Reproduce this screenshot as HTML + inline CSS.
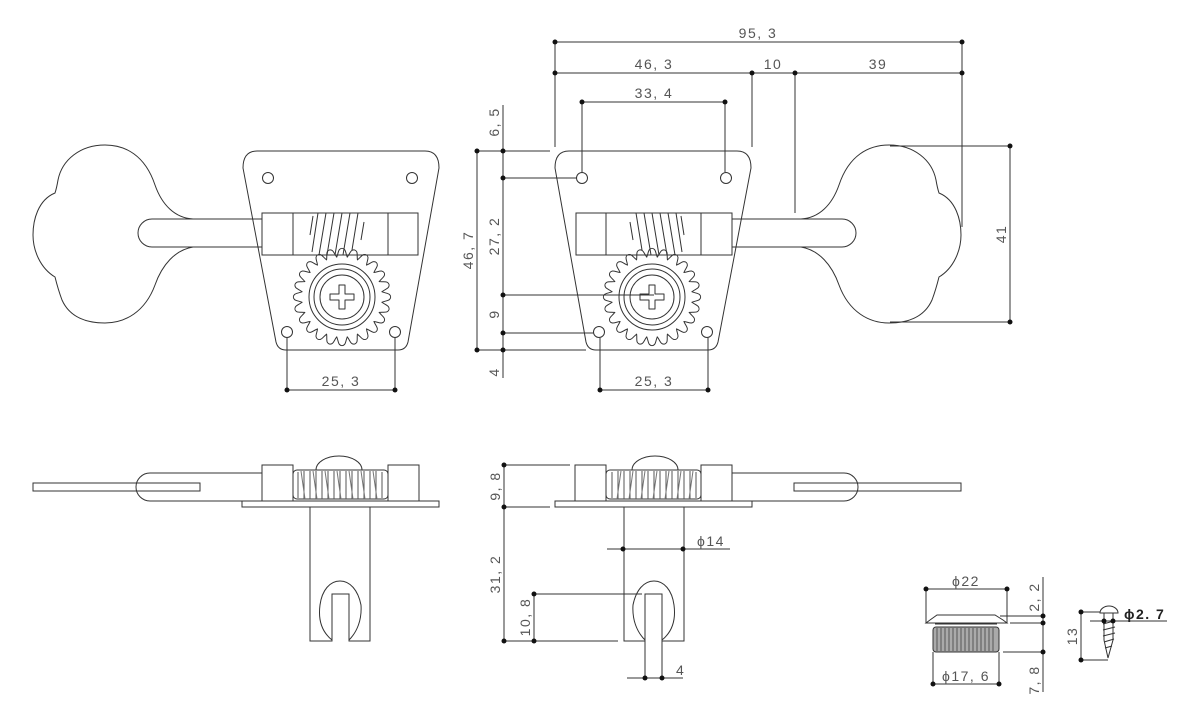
<!DOCTYPE html>
<html><head><meta charset="utf-8"><style>
html,body{margin:0;padding:0;background:#fff;width:1200px;height:720px;overflow:hidden}
svg{display:block}
text{font-family:"Liberation Sans",sans-serif;font-size:14px;fill:#555;letter-spacing:1.5px}
</style></head><body>
<svg width="1200" height="720" viewBox="0 0 1200 720" xmlns="http://www.w3.org/2000/svg">
<defs>
<path id="tooth" d="M-5.5,-39.6 C-4,-42 -4,-46 -2.5,-47.5 C-1,-49 1,-49 2.5,-47.5 C4,-46 4,-42 5.5,-39.6" fill="none" stroke="#333" stroke-width="1"/>
<g id="gear">
<use href="#tooth" transform="rotate(0)"/><use href="#tooth" transform="rotate(15)"/><use href="#tooth" transform="rotate(30)"/><use href="#tooth" transform="rotate(45)"/><use href="#tooth" transform="rotate(60)"/><use href="#tooth" transform="rotate(75)"/><use href="#tooth" transform="rotate(90)"/><use href="#tooth" transform="rotate(105)"/><use href="#tooth" transform="rotate(120)"/><use href="#tooth" transform="rotate(135)"/><use href="#tooth" transform="rotate(150)"/><use href="#tooth" transform="rotate(165)"/><use href="#tooth" transform="rotate(180)"/><use href="#tooth" transform="rotate(195)"/><use href="#tooth" transform="rotate(210)"/><use href="#tooth" transform="rotate(225)"/><use href="#tooth" transform="rotate(240)"/><use href="#tooth" transform="rotate(255)"/><use href="#tooth" transform="rotate(270)"/><use href="#tooth" transform="rotate(285)"/><use href="#tooth" transform="rotate(300)"/><use href="#tooth" transform="rotate(315)"/><use href="#tooth" transform="rotate(330)"/><use href="#tooth" transform="rotate(345)"/>
<circle r="33" fill="#fff" stroke="#333"/>
<circle r="28" fill="none" stroke="#333"/>
<circle r="22" fill="none" stroke="#333"/>
<path d="M-3,-12 h6 v9 h9 v6 h-9 v9 h-6 v-9 h-9 v-6 h9 z" fill="none" stroke="#333" stroke-linejoin="round"/>
</g>
<g id="topview" fill="none" stroke="#333" stroke-width="1">
<path d="M193,219 C175,218 162,205 155,185 C145,155 125,145 105,145 C80,145 62,160 58,180 C57,186 56,190 55,193 C38,200 33,220 33,235 C33,250 40,268 55,277 C57,285 59,292 62,300 C70,318 88,323 105,323 C125,323 145,312 155,285 C162,265 175,250 193,247"/>
<path d="M262,219 H152 A14,14 0 0 0 152,247 H262"/>
<path d="M257,151 H425 Q439,151 439,168 L408,342 Q406,350 398,350 H286 Q278,350 276,342 L243,168 Q243,151 257,151 Z"/>
<circle cx="268" cy="178" r="5.5"/><circle cx="412" cy="178" r="5.5"/>
<circle cx="287" cy="332" r="5.5"/><circle cx="395" cy="332" r="5.5"/>
<rect x="262" y="213" width="156" height="42" fill="#fff"/>
<line x1="293" y1="213" x2="293" y2="255"/><line x1="388" y1="213" x2="388" y2="255"/>
<path d="M313,216 L310,235 M318,213 L312,252 M326,213 L319,255 M334,213 L327,255 M342,213 L335,255 M350,213 L343,255 M358,213 L352,250 M364,222 L361,240"/>
<use href="#gear" x="342" y="297"/>
</g>
<g id="sideview" fill="none" stroke="#333" stroke-width="1">
<rect x="33" y="483" width="167" height="8"/>
<path d="M262,473 H150 A14,14 0 0 0 150,501 H262"/>
<rect x="262" y="465" width="31" height="36" fill="#fff"/>
<rect x="388" y="465" width="31" height="36" fill="#fff"/>
<path d="M316,470 A23,14 0 0 1 362,470"/>
<rect x="293" y="470" width="95" height="29" rx="4" fill="#fff"/>
<path d="M298,472 v26 M304,471 v28 M310,471 v28 M316,471 v28 M322,471 v28 M328,471 v28 M334,471 v28 M340,471 v28 M346,471 v28 M352,471 v28 M358,471 v28 M364,471 v28 M370,471 v28 M376,471 v28 M382,472 v26" stroke="#555"/>
<path d="M301,471 l4,28 M313,471 l4,28 M325,471 l4,28 M337,471 l4,28 M349,471 l4,28 M361,471 l4,28 M373,471 l4,28" stroke="#777"/>
<rect x="242" y="501" width="197" height="6" fill="#fff"/>
<path d="M310,507 V641 H332 V594 H349 V641 H370 V507"/>
<path d="M332,640 C322,632 318,620 320,605 C322,590 330,581 340,581 C350,581 358,590 361,605 C362,620 357,632 349,640"/>
</g>
</defs>

<use href="#topview"/>
<use href="#topview" transform="translate(994,0) scale(-1,1)"/>
<use href="#sideview"/>
<use href="#sideview" transform="translate(994,0) scale(-1,1)"/>

<g stroke="#333" stroke-width="1" fill="none">
<path d="M287,338 V390 M395,338 V390 M287,390 H395"/>
<path d="M555,42 H962 M555,73 H962 M555,42 V147 M752,73 V147 M795,73 V213 M962,42 V227"/>
<path d="M582,102 H725 M582,102 V172 M725,102 V172"/>
<path d="M600,338 V390 M708,338 V390 M600,390 H708"/>
<path d="M890,146 H1010 M890,322 H1010 M1010,146 V322"/>
<path d="M477,151 V350 M503,105 V378 M477,151 H550 M503,178 H577 M503,295 H654 M503,333 H594 M477,350 H586"/>
<path d="M504,465 H570 M504,507 H550 M504,465 V641 M504,641 H618 M534,594 V641 M534,594 H642"/>
<path d="M607,549 H730 M627,678 H683 M645,641 V678 M662,641 V678"/>
<path d="M926,589 H1007 M926,589 V623 M1007,589 V623 M933,652 V684 M999,652 V684 M933,684 H999"/>
<path d="M1043,577 V692 M1000,616 H1043 M1010,623 H1043 M1003,652 H1043"/>
<path d="M937,615 H995 L1003,620 L1007,623 H926 L930,620 Z" fill="#fff"/>
<path d="M935,624 H997"/>
<rect x="933" y="627" width="66" height="25" rx="3" fill="#aaa"/>
<path d="M937,628 v23 M941,628 v23 M945,628 v23 M949,628 v23 M953,628 v23 M957,628 v23 M961,628 v23 M965,628 v23 M969,628 v23 M973,628 v23 M977,628 v23 M981,628 v23 M985,628 v23 M989,628 v23 M993,628 v23" stroke="#555"/>
<path d="M1081,612 V660 M1081,612 H1100 M1081,660 H1108 M1090,621 H1167"/>
<path d="M1100,613 A9,7 0 0 1 1118,613 Z" fill="#fff"/>
<path d="M1104,613 V640 L1108,658 L1113,640 V613"/>
<path d="M1103,624 l11,-3 M1103,630 l12,-3 M1103,636 l12,-3 M1104,642 l10,-3 M1105,648 l7,-2"/>
</g>
<g fill="#111">
<circle cx="287" cy="390" r="2.5"/><circle cx="395" cy="390" r="2.5"/>
<circle cx="555" cy="42" r="2.5"/><circle cx="962" cy="42" r="2.5"/>
<circle cx="555" cy="73" r="2.5"/><circle cx="752" cy="73" r="2.5"/><circle cx="795" cy="73" r="2.5"/><circle cx="962" cy="73" r="2.5"/>
<circle cx="582" cy="102" r="2.5"/><circle cx="725" cy="102" r="2.5"/>
<circle cx="600" cy="390" r="2.5"/><circle cx="708" cy="390" r="2.5"/>
<circle cx="1010" cy="146" r="2.5"/><circle cx="1010" cy="322" r="2.5"/>
<circle cx="477" cy="151" r="2.5"/><circle cx="477" cy="350" r="2.5"/>
<circle cx="503" cy="151" r="2.5"/><circle cx="503" cy="178" r="2.5"/><circle cx="503" cy="295" r="2.5"/><circle cx="503" cy="333" r="2.5"/><circle cx="503" cy="350" r="2.5"/>
<circle cx="504" cy="465" r="2.5"/><circle cx="504" cy="507" r="2.5"/><circle cx="504" cy="641" r="2.5"/>
<circle cx="534" cy="594" r="2.5"/><circle cx="534" cy="641" r="2.5"/>
<circle cx="623" cy="549" r="2.5"/><circle cx="683" cy="549" r="2.5"/>
<circle cx="645" cy="678" r="2.5"/><circle cx="662" cy="678" r="2.5"/>
<circle cx="926" cy="589" r="2.5"/><circle cx="1007" cy="589" r="2.5"/>
<circle cx="933" cy="684" r="2.5"/><circle cx="999" cy="684" r="2.5"/>
<circle cx="1043" cy="616" r="2.5"/><circle cx="1043" cy="623" r="2.5"/><circle cx="1043" cy="652" r="2.5"/>
<circle cx="1081" cy="612" r="2.5"/><circle cx="1081" cy="660" r="2.5"/>
<circle cx="1104" cy="621" r="2.5"/><circle cx="1113" cy="621" r="2.5"/>
</g>

<text x="341" y="386" text-anchor="middle">25, 3</text>
<text x="654" y="386" text-anchor="middle">25, 3</text>
<text x="758" y="38" text-anchor="middle">95, 3</text>
<text x="654" y="69" text-anchor="middle">46, 3</text>
<text x="773" y="69" text-anchor="middle">10</text>
<text x="878" y="69" text-anchor="middle">39</text>
<text x="654" y="98" text-anchor="middle">33, 4</text>
<text transform="translate(1006,234) rotate(-90)" text-anchor="middle">41</text>
<text transform="translate(473,250) rotate(-90)" text-anchor="middle">46, 7</text>
<text transform="translate(499,122) rotate(-90)" text-anchor="middle">6, 5</text>
<text transform="translate(499,236) rotate(-90)" text-anchor="middle">27, 2</text>
<text transform="translate(499,314) rotate(-90)" text-anchor="middle">9</text>
<text transform="translate(499,372) rotate(-90)" text-anchor="middle">4</text>
<text transform="translate(500,486) rotate(-90)" text-anchor="middle">9, 8</text>
<text transform="translate(500,574) rotate(-90)" text-anchor="middle">31, 2</text>
<text transform="translate(530,617) rotate(-90)" text-anchor="middle">10, 8</text>
<text x="697" y="546">ϕ14</text>
<text x="676" y="675">4</text>
<text x="966" y="586" text-anchor="middle">ϕ22</text>
<text x="966" y="681" text-anchor="middle">ϕ17, 6</text>
<text transform="translate(1039,597) rotate(-90)" text-anchor="middle">2, 2</text>
<text transform="translate(1039,680) rotate(-90)" text-anchor="middle">7, 8</text>
<text transform="translate(1077,636) rotate(-90)" text-anchor="middle">13</text>
<text x="1124" y="619" style="fill:#222;font-weight:bold">ϕ2. 7</text>
</svg>
</body></html>
